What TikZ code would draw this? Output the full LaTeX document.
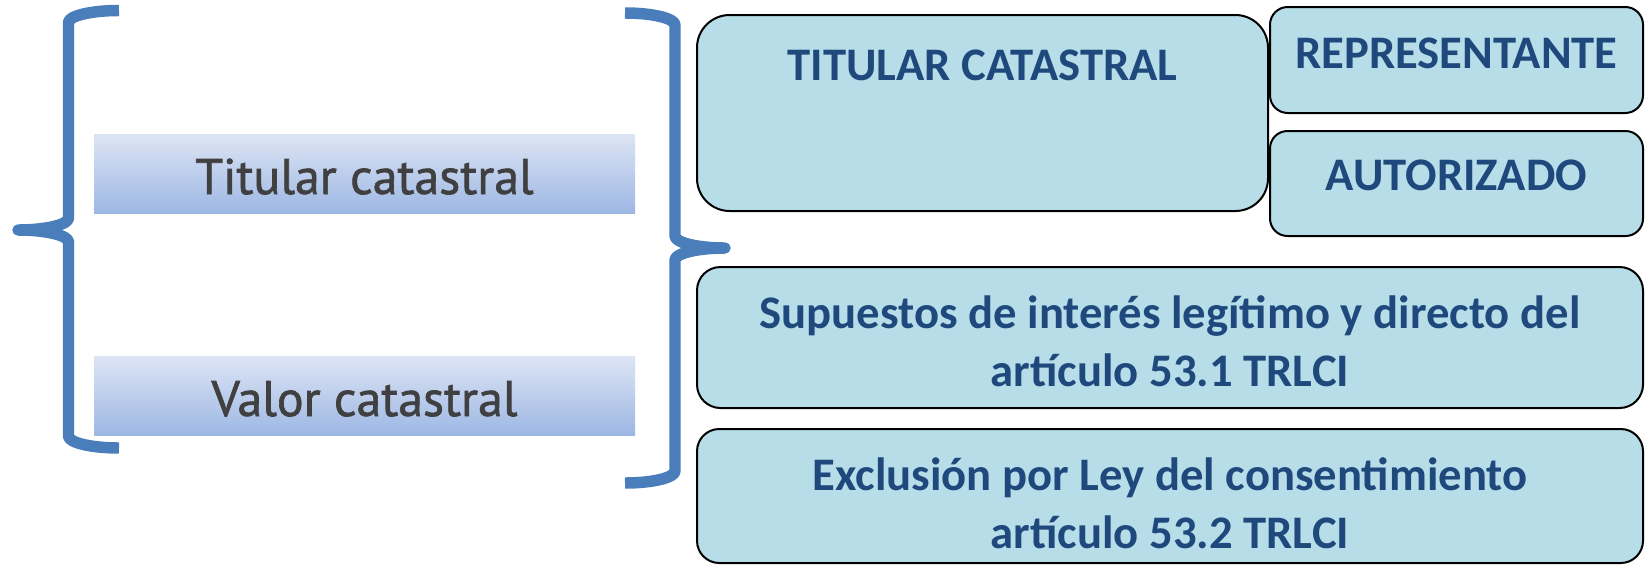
\documentclass[tikz,border=0pt]{standalone}
\usepackage{fontspec}
\setmainfont{Carlito}
\newfontfamily\dinfont[FakeBold=1.3]{PT Sans}

\definecolor{bracecol}{RGB}{74,126,187}
\definecolor{boxfill}{RGB}{183,222,232}
\definecolor{boxtext}{RGB}{31,73,125}
\definecolor{gradtop}{RGB}{221,229,244}
\definecolor{gradbot}{RGB}{157,183,228}
\definecolor{labeltext}{RGB}{64,64,64}

\begin{document}
\begin{tikzpicture}[x=0.75pt,y=0.75pt,yscale=-1,xscale=1,
  brace/.style={draw=bracecol, line width=8.6pt, line join=round},
  rbox/.style={draw=black, line width=1.5pt, fill=boxfill, rounded corners=#1},
  gbox/.style={top color=gradtop, bottom color=gradbot},
  boxlabel/.style={text=boxtext, font=\fontsize{35}{43.5}\selectfont\bfseries, inner sep=0pt, align=center},
  leftlabel/.style={text=labeltext, font=\dinfont\fontsize{37.5}{45}\selectfont, inner sep=0pt}]
\useasboundingbox (0,0) rectangle (1645,565);
\fill [white] (0,0) rectangle (1645,565);

%Shape: Left Brace
\draw [brace] (119,10.5) .. controls (91.1,10.5) and (68.5,15.9) .. (68.5,22.5) -- (68.5,218) .. controls (68.5,224.6) and (45.9,230) .. (18,230) .. controls (45.9,230) and (68.5,235.4) .. (68.5,242) -- (68.5,436) .. controls (68.5,442.6) and (91.1,448) .. (119,448) ;
%Shape: Right Brace
\draw [brace] (625,13) .. controls (652.6,13) and (675,18.4) .. (675,25) -- (675,236) .. controls (675,242.6) and (697.4,248) .. (725,248) .. controls (697.4,248) and (675,253.4) .. (675,260) -- (675,471) .. controls (675,477.6) and (652.6,483) .. (625,483) ;

%Shape: Gradient Rect
\shade [gbox] (94,134) rectangle (635,213) ;
%Shape: Gradient Rect
\shade [gbox] (94,356) rectangle (635,435) ;

%Shape: Rounded Rect
\draw [rbox=24.5pt] (697,15) rectangle (1268,211) ;
%Shape: Rounded Rect
\draw [rbox=13.3pt] (1270,7) rectangle (1643,113) ;
%Shape: Rounded Rect
\draw [rbox=13.1pt] (1270,131) rectangle (1643,236) ;
%Shape: Rounded Rect
\draw [rbox=17.6pt] (697,267) rectangle (1643,408) ;
%Shape: Rounded Rect
\draw [rbox=16.7pt] (697,429) rectangle (1643,563) ;

% Text Node
\draw (364.5,194) node (titularlbl) [leftlabel, anchor=base] {Titular catastral};
% Text Node
\draw (364.5,416) node (valorlbl) [leftlabel, anchor=base] {Valor catastral};
% Text Node
\draw (982.5,80) node (titularhead) [boxlabel, anchor=base] {TITULAR CATASTRAL};
% Text Node
\draw (1456.5,68) node (represent) [boxlabel, anchor=base] {REPRESENTANTE};
% Text Node
\draw (1456.5,190) node (autoriz) [boxlabel, anchor=base] {AUTORIZADO};
% Text Node
\draw (1170,386) node (supuestos) [boxlabel, anchor=base] {Supuestos de interés legítimo y directo del\\artículo 53.1 TRLCI};
% Text Node
\draw (1170,548) node (exclusion) [boxlabel, anchor=base] {Exclusión por Ley del consentimiento\\artículo 53.2 TRLCI};

\end{tikzpicture}
\end{document}
